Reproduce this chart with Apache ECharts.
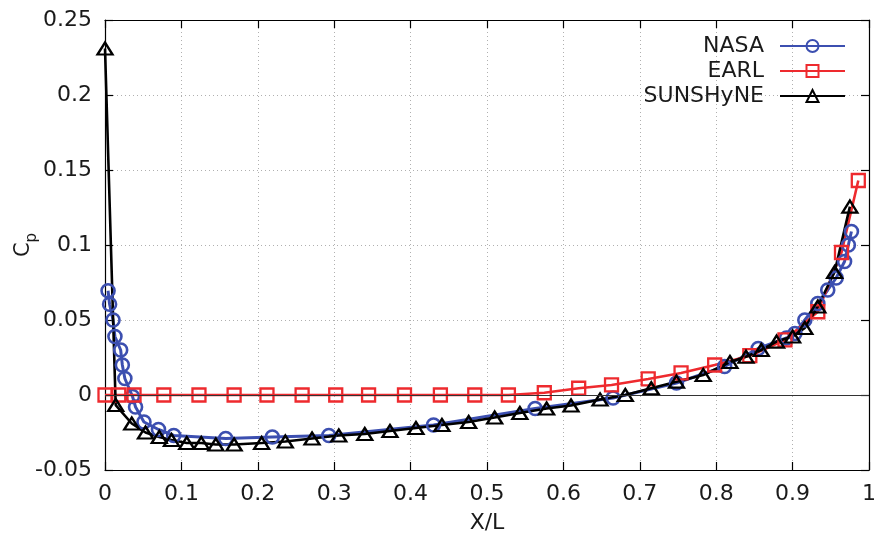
<!DOCTYPE html>
<html><head><meta charset="utf-8">
<script src="https://cdn.jsdelivr.net/npm/echarts@6/dist/echarts.min.js"></script>
<style>html,body{margin:0;padding:0;background:#fff}#c{width:878px;height:535px}</style>
</head><body><div id="c"></div>
<script>
// ---- data ----
const seriesNames = ['NASA', 'EARL', 'SUNSHyNE'];

const nasaX = [0.004,0.006,0.0105,0.013,0.0205,0.0227,0.026,0.036,0.040,0.051,0.070,0.090,0.158,0.219,0.293,0.430,0.563,0.665,0.748,0.811,0.855,0.892,0.903,0.916,0.933,0.946,0.957,0.968,0.973,0.977];
const nasaY = [0.0695,0.0605,0.050,0.039,0.030,0.020,0.011,-0.001,-0.008,-0.018,-0.023,-0.027,-0.029,-0.028,-0.027,-0.020,-0.009,-0.002,0.008,0.019,0.031,0.038,0.041,0.050,0.061,0.070,0.078,0.089,0.100,0.109];

const earlX = [0,0.018,0.038,0.077,0.123,0.169,0.212,0.258,0.302,0.345,0.392,0.439,0.484,0.528,0.575,0.620,0.663,0.711,0.754,0.798,0.844,0.890,0.933,0.964,0.986];
const earlY = [0,0,0,0,0,0,0,0,0,0,0,0,0,0,0.0015,0.0045,0.0067,0.0107,0.0147,0.020,0.0262,0.0367,0.0555,0.095,0.143];

const sunX = [0,0.014,0.035,0.053,0.071,0.087,0.107,0.126,0.145,0.169,0.205,0.236,0.271,0.306,0.340,0.373,0.407,0.441,0.476,0.510,0.543,0.578,0.610,0.648,0.681,0.715,0.748,0.783,0.818,0.839,0.859,0.879,0.900,0.916,0.933,0.955,0.975];
const sunY = [0.231,-0.0067,-0.019,-0.025,-0.028,-0.030,-0.032,-0.032,-0.033,-0.033,-0.032,-0.031,-0.029,-0.027,-0.026,-0.024,-0.022,-0.020,-0.018,-0.015,-0.012,-0.009,-0.007,-0.003,0.000,0.0045,0.0089,0.0133,0.022,0.0255,0.030,0.0356,0.039,0.0447,0.059,0.082,0.1256];

const xMin = 0, xMax = 1, xStep = 0.1;
const yMin = -0.05, yMax = 0.25, yStep = 0.05;

// ---- chart ----
const F = 'DejaVu Sans';
const TXT = '#1a1a1a';
const FS = 22;
const pairs = (xs, ys) => xs.map((x, i) => [x, ys[i]]);
const chart = echarts.init(document.getElementById('c'), null, {renderer: 'canvas'});

const axisLine = {show: true, onZero: false, lineStyle: {color: '#000', width: 1.2}};
const axisTick = {show: true, inside: true, length: 8, lineStyle: {color: '#000', width: 1.2}};
const grid = {show: true, lineStyle: {color: '#b0b0b0', type: [1, 3], width: 1}};

const option = {
  animation: false,
  backgroundColor: '#fff',
  grid: {left: 105, right: 9, top: 20, bottom: 65, containLabel: false, outerBoundsMode: 'none'},
  legend: {
    orient: 'vertical', right: 27, top: 30, align: 'right',
    itemWidth: 65, itemHeight: 15, itemGap: 3,
    textStyle: {fontFamily: F, fontSize: FS, color: TXT, padding: [0, 11, 0, 0]},
    data: seriesNames
  },
  xAxis: [
    {type: 'value', min: xMin, max: xMax, interval: xStep, position: 'bottom',
     axisLine, axisTick, splitLine: grid,
     axisLabel: {margin: 13, fontFamily: F, fontSize: FS, color: TXT},
     name: 'X/L', nameLocation: 'middle', nameGap: 42, nameMoveOverlap: false,
     nameTextStyle: {fontFamily: F, fontSize: FS, color: TXT}},
    {type: 'value', min: xMin, max: xMax, interval: xStep, position: 'top',
     axisLine, axisTick, axisLabel: {show: false}, splitLine: {show: false}}
  ],
  yAxis: [
    {type: 'value', min: yMin, max: yMax, interval: yStep, position: 'left',
     axisLine, axisTick, splitLine: grid,
     axisLabel: {margin: 13, fontFamily: F, fontSize: FS, color: TXT},
     name: '{c|C}{p|p}', nameLocation: 'middle', nameGap: 70, nameMoveOverlap: false,
     nameTextStyle: {rich: {
       c: {fontFamily: F, fontSize: 21, color: TXT, lineHeight: 22, verticalAlign: 'top'},
       p: {fontFamily: F, fontSize: 15, color: TXT, lineHeight: 15, verticalAlign: 'top', padding: [12, 0, 0, 0]}
     }}},
    {type: 'value', min: yMin, max: yMax, interval: yStep, position: 'right',
     axisLine, axisTick, axisLabel: {show: false}, splitLine: {show: false}}
  ],
  series: [
    {name: 'NASA', type: 'line', data: pairs(nasaX, nasaY),
     symbol: 'circle', symbolSize: 13,
     lineStyle: {color: '#3c4fb0', width: 3},
     itemStyle: {color: 'rgba(0,0,0,0)', borderColor: '#3c4fb0', borderWidth: 2.6},
     markLine: {silent: true, symbol: 'none', label: {show: false},
       lineStyle: {color: '#333', width: 1, type: 'solid'},
       data: [{yAxis: 0}]}},
    {name: 'EARL', type: 'line', data: pairs(earlX, earlY),
     symbol: 'rect', symbolSize: 13,
     lineStyle: {color: '#ee2a2e', width: 2.6},
     itemStyle: {color: 'rgba(0,0,0,0)', borderColor: '#ee2a2e', borderWidth: 2.3}},
    {name: 'SUNSHyNE', type: 'line', data: pairs(sunX, sunY),
     symbol: 'triangle', symbolSize: [15, 12],
     lineStyle: {color: '#000', width: 2.6},
     itemStyle: {color: 'rgba(0,0,0,0)', borderColor: '#000', borderWidth: 2.3}}
  ]
};
chart.setOption(option);
</script>
</body></html>
